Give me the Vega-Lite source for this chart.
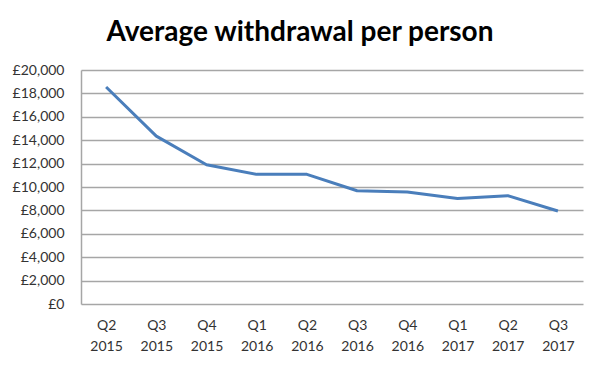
{
  "$schema": "https://vega.github.io/schema/vega-lite/v6.json",
  "autosize": {"type": "none"},
  "width": 502,
  "height": 234,
  "padding": {"left": 81, "top": 70, "right": 18, "bottom": 64},
  "background": "white",
  "title": {
    "text": "Average withdrawal per person",
    "font": "Lato",
    "fontSize": 28,
    "fontWeight": "bold",
    "color": "#000000",
    "anchor": "middle",
    "dx": -32,
    "offset": 16
  },
  "data": {
    "values": [
      {"quarter": "Q2 2015", "value": 18550},
      {"quarter": "Q3 2015", "value": 14350},
      {"quarter": "Q4 2015", "value": 11900},
      {"quarter": "Q1 2016", "value": 11080},
      {"quarter": "Q2 2016", "value": 11080},
      {"quarter": "Q3 2016", "value": 9680},
      {"quarter": "Q4 2016", "value": 9570},
      {"quarter": "Q1 2017", "value": 9020},
      {"quarter": "Q2 2017", "value": 9260},
      {"quarter": "Q3 2017", "value": 7950}
    ]
  },
  "mark": {"type": "line", "color": "#4A7EBB", "strokeWidth": 3, "strokeJoin": "round"},
  "encoding": {
    "x": {
      "field": "quarter",
      "type": "ordinal",
      "sort": null,
      "scale": {"type": "point", "padding": 0.5},
      "axis": {
        "title": null,
        "labelAngle": 0,
        "labelExpr": "split(datum.label, ' ')",
        "labelFont": "Lato",
        "labelFontSize": 14,
        "labelColor": "#333333",
        "labelLineHeight": 21,
        "labelPadding": 14,
        "ticks": false,
        "domain": false,
        "grid": false
      }
    },
    "y": {
      "field": "value",
      "type": "quantitative",
      "scale": {"domain": [0, 20000], "nice": false},
      "axis": {
        "title": null,
        "values": [0, 2000, 4000, 6000, 8000, 10000, 12000, 14000, 16000, 18000, 20000],
        "labelExpr": "'£' + format(datum.value, ',')",
        "labelFont": "Lato",
        "labelFontSize": 14,
        "labelColor": "#333333",
        "labelPadding": 17,
        "ticks": false,
        "domain": true,
        "domainColor": "#A6A6A6",
        "domainWidth": 1.5,
        "grid": true,
        "gridColor": "#A6A6A6",
        "gridWidth": 1.5
      }
    }
  },
  "config": {"view": {"stroke": null}}
}
